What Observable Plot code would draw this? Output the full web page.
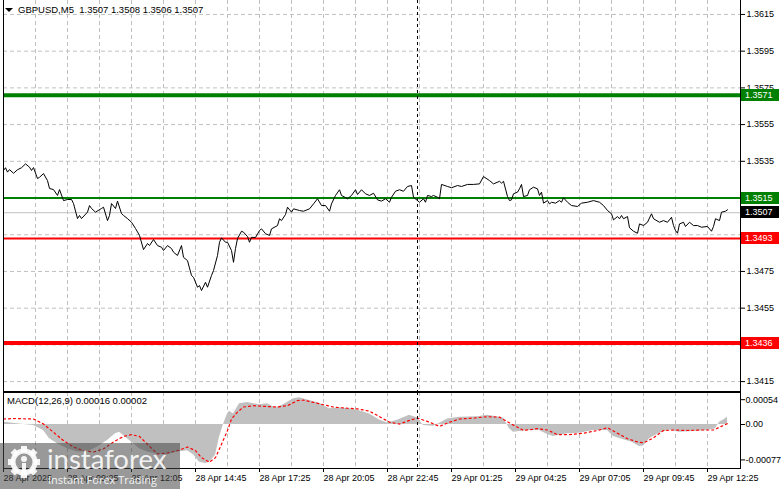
<!DOCTYPE html>
<html><head><meta charset="utf-8">
<script src="https://cdn.jsdelivr.net/npm/d3@7"></script>
<script src="https://cdn.jsdelivr.net/npm/@observablehq/plot@0.6"></script>
<style>
body{margin:0;background:#fff;}
#wrap{position:relative;width:781px;height:489px;overflow:hidden;font-family:"Liberation Sans",Arial,sans-serif;}
#main,#macd{position:absolute;left:0;}
#main{top:0px} #macd{top:392px}
.hdr{position:absolute;font-size:9.5px;color:#000;white-space:pre;line-height:12px;}
#logo{position:absolute;left:0;top:443px;width:180px;height:46px;background:rgba(70,70,70,0.55);}
</style></head><body>
<div id="wrap">
  <div id="main"></div>
  <div id="macd"></div>
  <div class="hdr" style="left:5px;top:4px"><svg width="8" height="6" style="vertical-align:middle;margin-right:5px"><path d="M0,1 L8,1 L4,5 Z" fill="#000"/></svg>GBPUSD,M5  1.3507 1.3508 1.3506 1.3507</div>
  <div class="hdr" style="left:7px;top:395px">MACD(12,26,9) 0.00016 0.00002</div>
  <div id="logo">
    <svg width="180" height="46" style="position:absolute;left:0;top:0">
      <g transform="translate(24,19)" fill="#fff" fill-opacity="0.9">
        <circle r="11" fill="none" stroke="#fff" stroke-opacity="0.9" stroke-width="5"/>
        <g>
          <rect x="-3" y="-16" width="6" height="6"/><rect x="-3" y="10" width="6" height="6"/>
          <rect x="-16" y="-3" width="6" height="6"/><rect x="10" y="-3" width="6" height="6"/>
          <rect x="-3" y="-16" width="6" height="6" transform="rotate(45)"/><rect x="-3" y="10" width="6" height="6" transform="rotate(45)"/>
          <rect x="-16" y="-3" width="6" height="6" transform="rotate(45)"/><rect x="10" y="-3" width="6" height="6" transform="rotate(45)"/>
        </g>
        <circle cx="0" cy="-3" r="3"/>
        <rect x="-2" y="1" width="4" height="12"/>
      </g>
      <text x="47" y="26" font-family="Lato, 'Open Sans', sans-serif" font-size="27.5" fill="#fff" fill-opacity="0.9">instaforex</text>
      <text x="48" y="41" font-family="'Open Sans', Lato, sans-serif" font-size="11" fill="#fff" fill-opacity="0.9">Instant Forex Trading</text>
    </svg>
  </div>
</div>
<script>
// ---- data (bar index, value) ----
const priceSeries = [
[0,1.35300],[1,1.35315],[2,1.35291],[3,1.35305],[5,1.35285],[7,1.35304],[9,1.35315],[11,1.35336],[13,1.35318],[14,1.35300],
[15,1.35316],[17,1.35256],[18,1.35263],[20,1.35283],[22,1.35245],[23,1.35202],[25,1.35196],[27,1.35164],[28,1.35196],[30,1.35136],
[32,1.35142],[34,1.35142],[35,1.35120],[37,1.35038],[38,1.35055],[39,1.35038],[42,1.35073],[43,1.35109],[44,1.35093],[46,1.35073],
[49,1.35093],[50,1.35100],[52,1.35027],[53,1.35055],[54,1.35120],[56,1.35093],[57,1.35133],[59,1.35065],[60,1.35055],[62,1.35038],
[64,1.35018],[66,1.34984],[68,1.34946],[70,1.34869],[72,1.34902],[73,1.34891],[75,1.34924],[77,1.34891],[79,1.34882],[80,1.34864],
[82,1.34891],[84,1.34875],[85,1.34855],[87,1.34837],[89,1.34891],[90,1.34827],[92,1.34809],[94,1.34728],[95,1.34718],[97,1.34664],
[98,1.34673],[99,1.34646],[101,1.34691],[102,1.34664],[104,1.34728],[105,1.34755],[107,1.34837],[108,1.34909],[109,1.34933],[111,1.34909],
[112,1.34909],[114,1.34864],[115,1.34800],[116,1.34875],[117,1.34929],[119,1.34969],[120,1.34964],[122,1.34940],[123,1.34909],[124,1.34936],
[126,1.34935],[128,1.34973],[129,1.34982],[131,1.34956],[133,1.34946],[134,1.34982],[137,1.35000],[138,1.35037],[139,1.35027],[141,1.35060],
[142,1.35100],[144,1.35073],[145,1.35091],[148,1.35082],[150,1.35078],[153,1.35091],[155,1.35118],[157,1.35146],[159,1.35109],[161,1.35109],
[163,1.35078],[164,1.35118],[166,1.35164],[168,1.35195],[169,1.35164],[172,1.35146],[174,1.35164],[176,1.35195],[177,1.35169],[179,1.35195],
[181,1.35173],[183,1.35164],[185,1.35176],[187,1.35140],[189,1.35133],[191,1.35146],[193,1.35127],[194,1.35154],[196,1.35187],[198,1.35195],
[200,1.35187],[202,1.35213],[204,1.35218],[205,1.35154],[207,1.35136],[208,1.35127],[210,1.35146],[211,1.35127],[212,1.35164],[214,1.35158],
[215,1.35164],[217,1.35154],[218,1.35146],[219,1.35224],[222,1.35213],[224,1.35206],[227,1.35218],[229,1.35213],[232,1.35224],[235,1.35224],
[238,1.35227],[240,1.35267],[243,1.35245],[245,1.35227],[248,1.35241],[249,1.35231],[250,1.35241],[252,1.35158],[253,1.35136],[254,1.35140],
[255,1.35173],[257,1.35182],[258,1.35200],[259,1.35224],[260,1.35158],[262,1.35164],[263,1.35195],[265,1.35209],[267,1.35200],[268,1.35164],
[269,1.35182],[270,1.35122],[272,1.35136],[273,1.35118],[274,1.35127],[276,1.35122],[278,1.35136],[279,1.35127],[280,1.35151],[282,1.35127],
[284,1.35109],[287,1.35104],[289,1.35122],[292,1.35127],[295,1.35136],[298,1.35127],[300,1.35109],[302,1.35082],[304,1.35064],[305,1.35031],
[307,1.35049],[308,1.35037],[309,1.35055],[310,1.35037],[312,1.35049],[313,1.34988],[315,1.34969],[317,1.34958],[318,1.35009],[320,1.35000],
[322,1.35018],[324,1.35064],[325,1.35037],[328,1.35018],[330,1.35027],[332,1.35018],[334,1.35045],[335,1.35000],[336,1.34973],[337,1.34958],
[338,1.35009],[340,1.35018],[341,1.34995],[343,1.35018],[345,1.35000],[347,1.35000],[349,1.34991],[352,1.34995],[354,1.34969],[355,1.34995],
[356,1.35037],[358,1.35027],[359,1.35073],[361,1.35078],[362,1.35086]
];
const macdHistogram = [
[0,0.00005],[8,0.00001],[15,-0.00002],[20,-0.00013],[23,-0.00031],[27,-0.00042],[32,-0.00053],[37,-0.0006],[42,-0.0006],[47,-0.00049],
[52,-0.00035],[56,-0.0002],[58,-0.00017],[60,-0.00024],[64,-0.00038],[68,-0.00053],[72,-0.0006],[77,-0.00065],[82,-0.00066],[87,-0.0006],
[92,-0.00057],[95,-0.00066],[98,-0.00082],[101,-0.00085],[103,-0.00082],[106,-0.00067],[108,-0.00028],[110,0],[112,0.00023],[113,0.00029],
[115,0.00023],[118,0.00045],[122,0.00048],[128,0.00043],[132,0.00045],[136,0.00036],[140,0.00043],[145,0.00056],[148,0.00058],[153,0.00052],
[158,0.00046],[163,0.00034],[168,0.00036],[173,0.00034],[178,0.0003],[183,0.00023],[188,0.0001],[192,0.00003],[197,0.00009],[203,0.0002],
[207,0.00014],[210,-0.00002],[215,-0.00004],[219,0.00005],[222,0.00012],[228,0.00016],[237,0.00017],[242,0.0002],[248,0.00016],[250,0.00014],
[253,-0.00009],[255,-0.00017],[262,-0.00013],[268,-0.00013],[272,-0.00022],[275,-0.00026],[282,-0.0002],[288,-0.00019],[295,-0.00013],[302,-0.00013],
[305,-0.00026],[310,-0.00033],[314,-0.00038],[318,-0.00048],[320,-0.00047],[323,-0.00031],[328,-0.00019],[333,-0.00012],[338,-0.00017],[345,-0.00015],
[352,-0.00013],[356,-0.00009],[358,0.00005],[360,0.0001],[362,0.00016]
];
const macdSignal = [
[0,0.00012],[6,0.00013],[15,0.00012],[20,0.00001],[25,-0.00017],[30,-0.00035],[35,-0.00049],[40,-0.00057],[45,-0.0006],[50,-0.00053],
[55,-0.00038],[60,-0.00026],[64,-0.00022],[68,-0.00026],[72,-0.00043],[77,-0.00064],[82,-0.00062],[87,-0.00057],[92,-0.00049],[96,-0.00057],
[99,-0.00072],[103,-0.00082],[106,-0.00072],[109,-0.00043],[112,-0.00013],[114,0.00012],[117,0.00027],[120,0.00038],[125,0.00041],[132,0.00039],
[137,0.00038],[142,0.00041],[147,0.00052],[150,0.00053],[155,0.00048],[160,0.00043],[165,0.00038],[170,0.00036],[177,0.00034],[183,0.00029],
[188,0.00017],[193,0.00005],[198,0.00001],[203,0.00009],[207,0.00014],[213,0.00005],[218,-0.00004],[223,0.00005],[228,0.00012],[235,0.00014],
[242,0.00017],[248,0.00016],[254,0.00001],[260,-0.00013],[267,-0.00009],[272,-0.00012],[277,-0.00022],[283,-0.00022],[290,-0.00019],[297,-0.00013],
[302,-0.00007],[307,-0.00019],[312,-0.00031],[317,-0.00038],[320,-0.0004],[325,-0.00029],[330,-0.00013],[335,-0.00012],[342,-0.00013],[348,-0.00012],
[355,-0.00012],[358,-0.00006],[362,0.00002]
];
const priceTicks = [1.3615,1.3595,1.3575,1.3555,1.3535,1.3515,1.3495,1.3475,1.3455,1.3435,1.3415];
const macdTicks = [0.00054, 0, -0.00077];
const macdTickLabels = ["0.00054","0.00","-0.00077"];
const timeTickBars = [0,32,64,96,128,160,192,224,256,288,320,352];
const timeTickLabels = ["28 Apr 2025","28 Apr 09:25","28 Apr 12:05","28 Apr 14:45","28 Apr 17:25","28 Apr 20:05","28 Apr 22:45","29 Apr 01:25","29 Apr 04:25","29 Apr 07:05","29 Apr 09:45","29 Apr 12:25"];
const resistanceLevels = [1.3571, 1.3515];
const supportLevels = [1.3493, 1.3436];
const lastPrice = 1.3507;
const separatorBar = 207;

// ---- styling ----
const GREEN = "#008000", RED = "#ff0000", GRID = "#c0c0c0";
const FONT = "'Liberation Sans', Arial, sans-serif";
const levelStyle = [
  {v: resistanceLevels[0], color: GREEN, w: 4},
  {v: resistanceLevels[1], color: GREEN, w: 2},
  {v: supportLevels[0], color: RED, w: 2},
  {v: supportLevels[1], color: RED, w: 4}
];
const xDomain = [0, 368.5];
const gridBars = d3.range(16, 368, 16);
const font = {fontFamily: FONT, fontSize: "9px", background: "transparent", overflow: "visible"};
const labelByBar = new Map(timeTickBars.map((b, i) => [b, timeTickLabels[i]]));
const macdLabel = new Map(macdTicks.map((t, i) => [t, macdTickLabels[i]]));

function borders(sides) {
  return (index, scales, values, dims) => {
    const g = d3.create("svg:g").attr("stroke", "#000").attr("shape-rendering", "crispEdges");
    const l = dims.marginLeft + 0.5, r = dims.width - dims.marginRight + 0.5;
    const t = dims.marginTop + 0.5, b = dims.height - dims.marginBottom + 0.5;
    if (sides.includes("l")) g.append("line").attr("x1", l).attr("x2", l).attr("y1", 0).attr("y2", b);
    if (sides.includes("r")) g.append("line").attr("x1", r).attr("x2", r).attr("y1", 0).attr("y2", b);
    if (sides.includes("t")) g.append("line").attr("x1", l).attr("x2", r).attr("y1", t).attr("y2", t);
    if (sides.includes("b")) g.append("line").attr("x1", l).attr("x2", r).attr("y1", b).attr("y2", b);
    return g.node();
  };
}
function priceTags(items) {
  return (index, scales, values, dims) => {
    const g = d3.create("svg:g");
    const x0 = dims.width - dims.marginRight + 1;
    for (const it of items) {
      const y = Math.round(scales.y(it.v));
      g.append("rect").attr("x", x0).attr("y", y - 6).attr("width", 38).attr("height", 12).attr("fill", it.color);
      g.append("text").attr("x", x0 + 4).attr("y", y).attr("dy", "0.35em").attr("fill", "#fff")
        .attr("text-anchor", "start").attr("font-size", 9).attr("font-family", FONT).text(it.v.toFixed(4));
    }
    return g.node();
  };
}

const priceData = priceSeries.map(([i, p]) => ({i, p}));
const histData = macdHistogram.map(([i, v]) => ({i, v}));
const sigData = macdSignal.map(([i, v]) => ({i, v}));

const mainPlot = Plot.plot({
  width: 781, height: 392,
  marginLeft: 3, marginRight: 41, marginTop: 0, marginBottom: 1,
  style: font,
  x: {domain: xDomain, axis: null, label: null},
  y: {domain: [1.34096, 1.36226], axis: null, label: null},
  marks: [
    Plot.gridX(gridBars, {stroke: GRID, strokeOpacity: 1, strokeDasharray: "4,3"}),
    Plot.gridY(priceTicks, {stroke: GRID, strokeOpacity: 1, strokeDasharray: "4,3"}),
    Plot.ruleY([lastPrice], {stroke: "#c0c0c0", strokeWidth: 1}),
    ...levelStyle.map(s => Plot.ruleY([s.v], {stroke: s.color, strokeWidth: s.w})),
    Plot.line(priceData, {x: "i", y: "p", stroke: "#000", strokeWidth: 1}),
    Plot.ruleX([separatorBar], {stroke: "#000", strokeDasharray: "3,3"}),
    Plot.axisY(priceTicks, {anchor: "right", label: null, tickSize: 4, tickPadding: 2, tickFormat: d => d.toFixed(4)}),
    priceTags([...levelStyle, {v: lastPrice, color: "#000"}]),
    borders("lrb")
  ]
});
document.getElementById("main").append(mainPlot);

const macdPlot = Plot.plot({
  width: 781, height: 97,
  marginLeft: 3, marginRight: 41, marginTop: 0, marginBottom: 21,
  style: font,
  x: {domain: xDomain, axis: null, label: null},
  y: {domain: [-0.000957, 0.000696], axis: null, label: null},
  marks: [
    Plot.gridX(gridBars, {stroke: GRID, strokeOpacity: 1, strokeDasharray: "4,3"}),
    Plot.areaY(histData, {x: "i", y: "v", fill: "#c0c0c0"}),
    Plot.line(sigData, {x: "i", y: "v", stroke: "#ff0000", strokeWidth: 1.2, strokeDasharray: "2,3"}),
    Plot.ruleX([separatorBar], {stroke: "#000", strokeDasharray: "3,3"}),
    Plot.axisY(macdTicks, {anchor: "right", label: null, tickSize: 4, tickPadding: 1, tickFormat: d => macdLabel.get(d)}),
    Plot.axisX(timeTickBars, {anchor: "bottom", label: null, tickSize: 4, tickPadding: 2, textAnchor: "start", tickFormat: d => labelByBar.get(d)}),
    borders("lrtb")
  ]
});
document.getElementById("macd").append(macdPlot);
</script>
</body></html>
